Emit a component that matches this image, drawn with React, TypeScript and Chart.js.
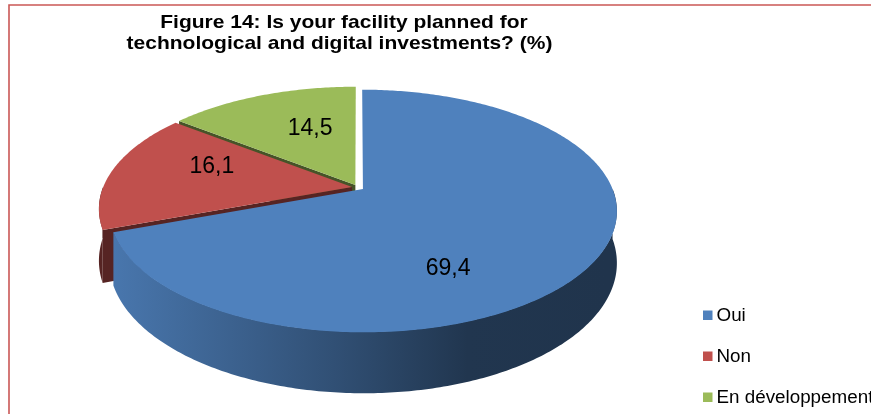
import React, { useEffect, useRef } from "react";
import { Chart, registerables } from "chart.js";

Chart.register(...registerables);

// ---- data ----
const categories = ["Oui", "Non", "En développement"];
const values = [69.4, 16.1, 14.5];
const valueLabels = ["69,4", "16,1", "14,5"];
const sliceColors = ["#4F81BD", "#C0504D", "#9BBB59"];
const titleLines = [
  "Figure 14: Is your facility planned for",
  "technological and digital investments? (%)",
];

const FONT = '"Liberation Sans", Arial, Helvetica, sans-serif';

function shade(hex: string, f: number): string {
  const n = parseInt(hex.slice(1), 16);
  const r = Math.round(((n >> 16) & 255) * f);
  const g = Math.round(((n >> 8) & 255) * f);
  const b = Math.round((n & 255) * f);
  return `rgb(${r},${g},${b})`;
}

type Slice = {
  i: number;
  a0: number;
  a1: number;
  mid: number;
  du: number;
  dv: number;
  color: string;
};

function geometry(chart: any, opts: any) {
  const meta = chart.getDatasetMeta(0);
  const arcs = meta.data as any[];
  if (!arcs.length) return null;
  const R = arcs[0].outerRadius;
  const cx = arcs[0].x;
  const cy = arcs[0].y;
  const KX = R;
  const KY = R * opts.tilt;
  const P = opts.perspective;
  const H = R * opts.depth;
  const proj = (u: number, v: number, z: number): [number, number] => {
    const s = 1 / (1 - P * v);
    return [cx + KX * u * s, cy + KY * v * s + H * z * s];
  };
  const colors = chart.data.datasets[0].backgroundColor as string[];
  const slices: Slice[] = arcs.map((a: any, i: number) => {
    const mid = (a.startAngle + a.endAngle) / 2;
    const off = (a.options.offset || 0) / R;
    return {
      i,
      a0: a.startAngle,
      a1: a.endAngle,
      mid,
      du: Math.cos(mid) * off,
      dv: Math.sin(mid) * off,
      color: colors[i],
    };
  });
  return { R, cx, cy, KX, KY, proj, slices };
}

const pie3d = {
  id: "pie3d",
  beforeDatasetsDraw(chart: any, _args: any, opts: any) {
    const g = geometry(chart, opts);
    if (!g) return false;
    const { cx, KX, proj, slices } = g;
    const ctx: CanvasRenderingContext2D = chart.ctx;
    const pt = (s: Slice, a: number, r: number, z: number) =>
      proj(s.du + r * Math.cos(a), s.dv + r * Math.sin(a), z);
    const steps = (a0: number, a1: number) =>
      Math.max(2, Math.ceil(Math.abs(a1 - a0) / (Math.PI / 240)));

    const order = [...slices].sort((a, b) => Math.sin(a.mid) - Math.sin(b.mid));

    ctx.save();
    // radial faces
    const face = (s: Slice, a: number) => {
      const c0 = proj(s.du, s.dv, 0);
      const r0 = pt(s, a, 1, 0);
      const r1 = pt(s, a, 1, 1);
      const c1 = proj(s.du, s.dv, 1);
      ctx.beginPath();
      ctx.moveTo(c0[0], c0[1]);
      ctx.lineTo(r0[0], r0[1]);
      ctx.lineTo(r1[0], r1[1]);
      ctx.lineTo(c1[0], c1[1]);
      ctx.closePath();
      ctx.fillStyle = shade(s.color, 0.45);
      ctx.fill();
    };
    for (const s of order) {
      if (-Math.cos(s.a0) > 0.05) face(s, s.a0);
      if (Math.cos(s.a1) > 0.05) face(s, s.a1);
    }
    // curved outer walls
    for (const s of order) {
      const light = opts.wallLight[s.i];
      for (let k = -1; k <= 1; k++) {
        const lo = Math.max(s.a0, 2 * Math.PI * k);
        const hi = Math.min(s.a1, Math.PI + 2 * Math.PI * k);
        if (hi <= lo) continue;
        const n = steps(lo, hi);
        ctx.beginPath();
        for (let j = 0; j <= n; j++) {
          const a = lo + ((hi - lo) * j) / n;
          const p = pt(s, a, 1, -0.01);
          if (j === 0) ctx.moveTo(p[0], p[1]);
          else ctx.lineTo(p[0], p[1]);
        }
        for (let j = n; j >= 0; j--) {
          const a = lo + ((hi - lo) * j) / n;
          const p = pt(s, a, 1, 1);
          ctx.lineTo(p[0], p[1]);
        }
        ctx.closePath();
        const gr = ctx.createLinearGradient(cx - KX, 0, cx + KX, 0);
        gr.addColorStop(0, shade(s.color, light));
        gr.addColorStop(0.45, shade(s.color, Math.min(light, 0.62)));
        gr.addColorStop(0.72, shade(s.color, Math.min(light, 0.42)));
        gr.addColorStop(1, shade(s.color, Math.min(light, 0.4)));
        ctx.fillStyle = gr;
        ctx.fill();
      }
    }
    // top faces
    for (const s of order) {
      const n = steps(s.a0, s.a1);
      const c = proj(s.du, s.dv, 0);
      ctx.beginPath();
      ctx.moveTo(c[0], c[1]);
      for (let j = 0; j <= n; j++) {
        const a = s.a0 + ((s.a1 - s.a0) * j) / n;
        const p = pt(s, a, 1, 0);
        ctx.lineTo(p[0], p[1]);
      }
      ctx.closePath();
      ctx.fillStyle = s.color;
      ctx.fill();
    }
    ctx.restore();
    return false;
  },
  afterDraw(chart: any, _args: any, opts: any) {
    const g = geometry(chart, opts);
    const ctx: CanvasRenderingContext2D = chart.ctx;
    ctx.save();
    // value labels
    if (g) {
      ctx.font = `23px ${FONT}`;
      ctx.fillStyle = "#000";
      ctx.textAlign = "center";
      ctx.textBaseline = "alphabetic";
      g.slices.forEach((s) => {
        const f = opts.labelFraction;
        const p = g.proj(s.du + f * Math.cos(s.mid), s.dv + f * Math.sin(s.mid), 0);
        const sh = opts.labelShift[s.i] || [0, 0];
        ctx.fillText(valueLabels[s.i], p[0] + sh[0], p[1] + sh[1] + 8.2);
      });
    }
    // title (slightly wide glyphs, as in the original)
    ctx.font = `bold 18.5px ${FONT}`;
    ctx.textAlign = "center";
    ctx.textBaseline = "alphabetic";
    ctx.fillStyle = "#000";
    titleLines.forEach((line, i) => {
      const t = opts.title[i];
      ctx.save();
      ctx.translate(t[0], t[1]);
      ctx.scale(opts.titleStretch, 1);
      ctx.fillText(line, 0, 0);
      ctx.restore();
    });
    // legend
    const lg = opts.legend;
    ctx.font = `18px ${FONT}`;
    ctx.textAlign = "left";
    const cols = chart.data.datasets[0].backgroundColor as string[];
    (chart.data.labels as string[]).forEach((lab, i) => {
      const y = lg.y + lg.gap * i;
      ctx.fillStyle = cols[i];
      ctx.fillRect(lg.x, y, lg.box, lg.box);
      ctx.fillStyle = "#000";
      ctx.save();
      ctx.translate(lg.textX, y + lg.baseline);
      ctx.scale(lg.stretch, 1);
      ctx.fillText(lab, 0, 0);
      ctx.restore();
    });
    // frame
    ctx.strokeStyle = "rgba(196,70,68,0.9)";
    ctx.lineWidth = 1.6;
    ctx.beginPath();
    ctx.moveTo(9, chart.height);
    ctx.lineTo(9, 5);
    ctx.lineTo(chart.width, 5);
    ctx.stroke();
    ctx.restore();
  },
};

export default function App() {
  const ref = useRef<HTMLCanvasElement>(null);
  useEffect(() => {
    if (!ref.current) return;
    const chart = new Chart(ref.current, {
      type: "pie",
      data: {
        labels: categories,
        datasets: [
          {
            data: values,
            backgroundColor: sliceColors,
            borderWidth: 0,
            offset: 6,
          },
        ],
      },
      options: {
        animation: false,
        responsive: true,
        maintainAspectRatio: false,
        radius: 249,
        layout: { padding: { left: 0, right: 155, top: 0, bottom: 39 } },
        events: [],
        plugins: {
          legend: { display: false },
          title: { display: false },
          tooltip: { enabled: false },
          pie3d: {
            tilt: 0.469,
            perspective: 0.18,
            depth: 0.2,
            wallLight: [0.92, 0.45, 0.45],
            labelFraction: 0.5,
            labelShift: [
              [-23, 42],
              [-19, -13],
              [5, -10],
            ],
            title: [
              [344, 28.3],
              [339.5, 49],
            ],
            titleStretch: 1.135,
            legend: {
              x: 703,
              y: 310.5,
              gap: 41,
              box: 9.5,
              textX: 716.5,
              baseline: 10.5,
              stretch: 1.045,
            },
          },
        } as any,
      } as any,
      plugins: [pie3d as any],
    });
    return () => chart.destroy();
  }, []);
  return (
    <div
      style={{
        position: "fixed",
        left: 0,
        top: 0,
        width: 871,
        height: 414,
        background: "#fff",
      }}
    >
      <canvas ref={ref} />
    </div>
  );
}
